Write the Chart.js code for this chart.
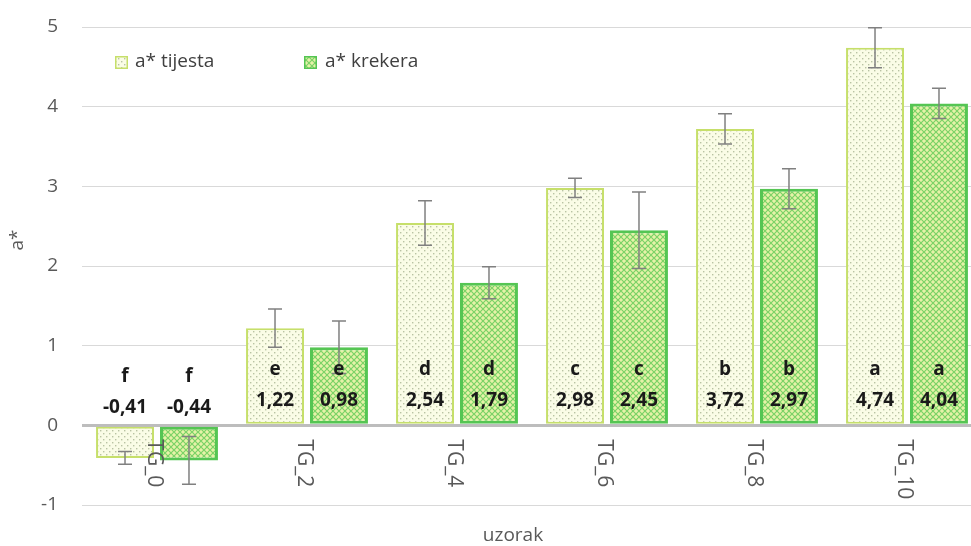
<!DOCTYPE html>
<html>
<head>
<meta charset="utf-8">
<script src="https://cdn.jsdelivr.net/npm/chart.js@4/dist/chart.umd.min.js"></script>
<style>
html, body { margin: 0; padding: 0; background: #fff; overflow: hidden; }
#wrap { width: 990px; height: 546px; }
</style>
</head>
<body>
<div id="wrap"><canvas id="chart" width="990" height="546"></canvas></div>
<script>
// data
const categories = ['TG_0', 'TG_2', 'TG_4', 'TG_6', 'TG_8', 'TG_10'];
const tijesta = [-0.41, 1.22, 2.54, 2.98, 3.72, 4.74];
const krekera = [-0.44, 0.98, 1.79, 2.45, 2.97, 4.04];
const tijestaErr = [0.08, 0.24, 0.28, 0.12, 0.19, 0.25];
const krekeraErr = [0.30, 0.33, 0.20, 0.48, 0.25, 0.19];
const tijestaLetters = ['f', 'e', 'd', 'c', 'b', 'a'];
const krekeraLetters = ['f', 'e', 'd', 'c', 'b', 'a'];
const seriesNames = ['a* tijesta', 'a* krekera'];

const FONT = '"Open Sans", "Noto Sans", sans-serif';

function dotPattern() {
  let c = document.createElement('canvas');
  c.width = 6; c.height = 6;
  let g = c.getContext('2d');
  g.fillStyle = '#fafce6';
  g.fillRect(0, 0, 6, 6);
  g.fillStyle = '#b9c3a3';
  g.fillRect(1, 1, 1.4, 1.4);
  g.fillRect(4, 4, 1.4, 1.4);
  return g.createPattern(c, 'repeat');
}

function meshPattern() {
  let c = document.createElement('canvas');
  c.width = 6; c.height = 6;
  let g = c.getContext('2d');
  g.fillStyle = '#e6f2a8';
  g.fillRect(0, 0, 6, 6);
  g.strokeStyle = '#7ad266';
  g.lineWidth = 1.2;
  g.beginPath();
  g.moveTo(0, 0); g.lineTo(6, 6);
  g.moveTo(6, 0); g.lineTo(0, 6);
  g.stroke();
  return g.createPattern(c, 'repeat');
}

const errs = [tijestaErr, krekeraErr];
const letters = [tijestaLetters, krekeraLetters];

const extras = {
  id: 'extras',
  afterDatasetsDraw(chart) {
    let ctx = chart.ctx;
    let y = chart.scales.y;
    let zero = y.getPixelForValue(0);
    ctx.save();
    // error bars
    ctx.strokeStyle = '#808080';
    ctx.lineWidth = 1.5;
    chart.data.datasets.forEach((ds, d) => {
      chart.getDatasetMeta(d).data.forEach((bar, i) => {
        let v = ds.data[i], e = errs[d][i];
        let top = y.getPixelForValue(v + e), bot = y.getPixelForValue(v - e);
        ctx.beginPath();
        ctx.moveTo(bar.x, top); ctx.lineTo(bar.x, bot);
        ctx.moveTo(bar.x - 7, top); ctx.lineTo(bar.x + 7, top);
        ctx.moveTo(bar.x - 7, bot); ctx.lineTo(bar.x + 7, bot);
        ctx.stroke();
      });
    });
    // letters and values
    ctx.fillStyle = '#1a1a1a';
    ctx.textAlign = 'center';
    ctx.textBaseline = 'middle';
    ctx.font = 'bold 19px ' + FONT;
    chart.data.datasets.forEach((ds, d) => {
      chart.getDatasetMeta(d).data.forEach((bar, i) => {
        let v = ds.data[i];
        let shift = v < 0 ? 7 : 0;
        ctx.fillText(letters[d][i], bar.x, zero - 56 + shift);
        ctx.fillText(v.toFixed(2).replace('.', ','), bar.x, zero - 25 + shift);
      });
    });
    ctx.restore();
  },
  afterDraw(chart) {
    let ctx = chart.ctx;
    let x = chart.scales.x, y = chart.scales.y;
    let zero = y.getPixelForValue(0);
    ctx.save();
    // category labels, rotated clockwise
    ctx.fillStyle = '#595959';
    ctx.font = '21px ' + FONT;
    ctx.textAlign = 'left';
    ctx.textBaseline = 'middle';
    categories.forEach((c, i) => {
      ctx.save();
      ctx.translate(x.getPixelForValue(i) - 3, zero + 14);
      ctx.rotate(Math.PI / 2);
      ctx.fillText(c, 0, 0);
      ctx.restore();
    });
    // axis titles
    ctx.font = '19px ' + FONT;
    ctx.textAlign = 'center';
    ctx.fillText('uzorak', 513, 536);
    ctx.save();
    ctx.translate(18, 240);
    ctx.rotate(-Math.PI / 2);
    ctx.fillText('a*', 0, 0);
    ctx.restore();
    // legend
    let pos = [[115, 135], [304, 325]];
    ctx.textAlign = 'left';
    chart.data.datasets.forEach((ds, d) => {
      ctx.fillStyle = ds.backgroundColor;
      ctx.fillRect(pos[d][0], 56, 13, 13);
      ctx.strokeStyle = ds.borderColor;
      ctx.lineWidth = 1.5;
      ctx.strokeRect(pos[d][0] + 0.75, 56.75, 11.5, 11.5);
      ctx.fillStyle = '#404040';
      ctx.fillText(seriesNames[d], pos[d][1], 62);
    });
    ctx.restore();
  }
};

new Chart(document.getElementById('chart'), {
  type: 'bar',
  data: {
    labels: categories,
    datasets: [{
      label: seriesNames[0],
      data: tijesta,
      backgroundColor: dotPattern(),
      borderColor: '#c6df6a',
      borderWidth: 2,
      borderSkipped: false
    }, {
      label: seriesNames[1],
      data: krekera,
      backgroundColor: meshPattern(),
      borderColor: '#55c553',
      borderWidth: 3,
      borderSkipped: false
    }]
  },
  options: {
    responsive: false,
    animation: false,
    devicePixelRatio: 1,
    layout: { padding: { top: 27, right: 8, left: 0, bottom: 0 } },
    datasets: { bar: { categoryPercentage: 0.853, barPercentage: 0.906 } },
    plugins: { legend: { display: false }, tooltip: { enabled: false } },
    scales: {
      x: {
        ticks: { display: false },
        grid: { display: false },
        border: { display: false },
        afterFit(s) { s.height = 41; }
      },
      y: {
        min: -1, max: 5,
        ticks: { stepSize: 1, color: '#595959', font: { size: 19, family: FONT }, padding: 24 },
        grid: {
          drawTicks: false,
          color: ctx => ctx.tick && ctx.tick.value === 0 ? '#bdbdbd' : '#d9d9d9',
          lineWidth: ctx => ctx.tick && ctx.tick.value === 0 ? 3 : 1
        },
        border: { display: false },
        afterFit(s) { s.width = 82; s.paddingTop = 0; s.paddingBottom = 0; }
      }
    }
  },
  plugins: [extras]
});
</script>
</body>
</html>
